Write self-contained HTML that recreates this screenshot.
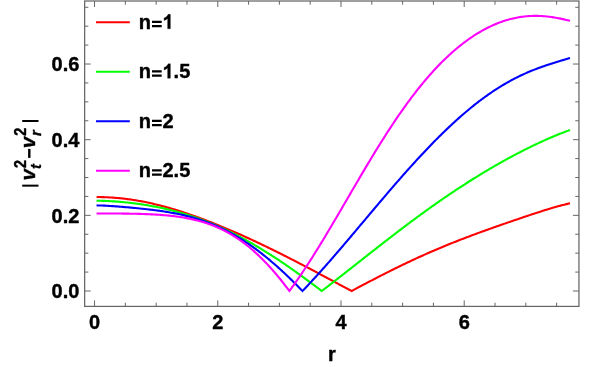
<!DOCTYPE html>
<html><head><meta charset="utf-8"><title>plot</title>
<style>
html,body{margin:0;padding:0;background:#fff;}
body{width:598px;height:367px;overflow:hidden;}
svg{display:block;will-change:transform;opacity:0.999;}
text{font-family:"Liberation Sans",sans-serif;font-weight:bold;fill:#000;stroke:#000;stroke-width:0.4px;stroke-linejoin:round;}
</style></head><body>
<svg width="598" height="367" viewBox="0 0 598 367">
<rect x="0" y="0" width="598" height="367" fill="#ffffff"/>
<path d="M96.58 197.02 L97.77 197.04 L98.96 197.05 L100.14 197.07 L101.33 197.10 L102.52 197.13 L103.70 197.16 L104.89 197.21 L106.08 197.25 L107.26 197.31 L108.45 197.37 L109.63 197.43 L110.82 197.50 L112.01 197.57 L113.19 197.66 L114.38 197.74 L115.57 197.84 L116.75 197.93 L117.94 198.04 L119.13 198.15 L120.31 198.27 L121.50 198.39 L122.69 198.52 L123.87 198.65 L125.06 198.79 L126.25 198.94 L127.43 199.09 L128.62 199.25 L129.80 199.41 L130.99 199.58 L132.18 199.76 L133.36 199.94 L134.55 200.12 L135.74 200.32 L136.92 200.52 L138.11 200.72 L139.30 200.93 L140.48 201.14 L141.67 201.37 L142.86 201.59 L144.04 201.82 L145.23 202.06 L146.42 202.30 L147.60 202.55 L148.79 202.80 L149.98 203.06 L151.16 203.33 L152.35 203.60 L153.53 203.87 L154.72 204.15 L155.91 204.43 L157.09 204.72 L158.28 205.02 L159.47 205.32 L160.65 205.62 L161.84 205.93 L163.03 206.24 L164.21 206.56 L165.40 206.88 L166.59 207.21 L167.77 207.54 L168.96 207.88 L170.15 208.22 L171.33 208.56 L172.52 208.91 L173.71 209.26 L174.89 209.62 L176.08 209.98 L177.26 210.35 L178.45 210.72 L179.64 211.09 L180.82 211.47 L182.01 211.85 L183.20 212.24 L184.38 212.63 L185.57 213.02 L186.76 213.42 L187.94 213.82 L189.13 214.22 L190.32 214.63 L191.50 215.04 L192.69 215.46 L193.88 215.88 L195.06 216.30 L196.25 216.72 L197.44 217.15 L198.62 217.58 L199.81 218.02 L200.99 218.46 L202.18 218.90 L203.37 219.34 L204.55 219.79 L205.74 220.24 L206.93 220.69 L208.11 221.15 L209.30 221.61 L210.49 222.07 L211.67 222.54 L212.86 223.01 L214.05 223.48 L215.23 223.95 L216.42 224.43 L217.61 224.91 L218.79 225.39 L219.98 225.88 L221.17 226.37 L222.35 226.86 L223.54 227.35 L224.72 227.85 L225.91 228.35 L227.10 228.85 L228.28 229.35 L229.47 229.86 L230.66 230.36 L231.84 230.87 L233.03 231.39 L234.22 231.90 L235.40 232.42 L236.59 232.94 L237.78 233.46 L238.96 233.99 L240.15 234.52 L241.34 235.05 L242.52 235.58 L243.71 236.11 L244.89 236.65 L246.08 237.19 L247.27 237.73 L248.45 238.27 L249.64 238.81 L250.83 239.36 L252.01 239.91 L253.20 240.46 L254.39 241.01 L255.57 241.57 L256.76 242.13 L257.95 242.69 L259.13 243.25 L260.32 243.81 L261.51 244.37 L262.69 244.94 L263.88 245.51 L265.07 246.08 L266.25 246.65 L267.44 247.23 L268.62 247.80 L269.81 248.38 L271.00 248.96 L272.18 249.54 L273.37 250.12 L274.56 250.71 L275.74 251.29 L276.93 251.88 L278.12 252.47 L279.30 253.06 L280.49 253.66 L281.68 254.25 L282.86 254.85 L284.05 255.44 L285.24 256.04 L286.42 256.64 L287.61 257.25 L288.80 257.85 L289.98 258.45 L291.17 259.06 L292.35 259.67 L293.54 260.28 L294.73 260.89 L295.91 261.50 L297.10 262.11 L298.29 262.72 L299.47 263.34 L300.66 263.95 L301.85 264.57 L303.03 265.19 L304.22 265.81 L305.41 266.43 L306.59 267.05 L307.78 267.67 L308.97 268.30 L310.15 268.92 L311.34 269.55 L312.53 270.17 L313.71 270.80 L314.90 271.43 L316.08 272.05 L317.27 272.68 L318.46 273.31 L319.64 273.94 L320.83 274.57 L322.02 275.20 L323.20 275.84 L324.39 276.47 L325.58 277.10 L326.76 277.73 L327.95 278.37 L329.14 279.00 L330.32 279.64 L331.51 280.27 L332.70 280.90 L333.88 281.54 L335.07 282.17 L336.25 282.81 L337.44 283.44 L338.63 284.08 L339.81 284.71 L341.00 285.35 L342.19 285.98 L343.37 286.62 L344.56 287.25 L345.75 287.89 L346.93 288.52 L348.12 289.15 L349.31 289.79 L350.49 290.42 L351.58 291.00 L351.68 290.95 L352.87 290.32 L354.05 289.69 L355.24 289.06 L356.43 288.43 L357.61 287.80 L358.80 287.17 L359.98 286.54 L361.17 285.91 L362.36 285.29 L363.54 284.66 L364.73 284.04 L365.92 283.42 L367.10 282.80 L368.29 282.17 L369.48 281.55 L370.66 280.94 L371.85 280.32 L373.04 279.70 L374.22 279.09 L375.41 278.47 L376.60 277.86 L377.78 277.25 L378.97 276.64 L380.16 276.03 L381.34 275.43 L382.53 274.82 L383.71 274.22 L384.90 273.62 L386.09 273.02 L387.27 272.42 L388.46 271.82 L389.65 271.23 L390.83 270.64 L392.02 270.05 L393.21 269.46 L394.39 268.87 L395.58 268.28 L396.77 267.70 L397.95 267.12 L399.14 266.54 L400.33 265.96 L401.51 265.39 L402.70 264.82 L403.89 264.25 L405.07 263.68 L406.26 263.11 L407.44 262.55 L408.63 261.98 L409.82 261.43 L411.00 260.87 L412.19 260.31 L413.38 259.76 L414.56 259.21 L415.75 258.66 L416.94 258.12 L418.12 257.57 L419.31 257.03 L420.50 256.49 L421.68 255.96 L422.87 255.42 L424.06 254.89 L425.24 254.36 L426.43 253.84 L427.62 253.31 L428.80 252.79 L429.99 252.27 L431.17 251.75 L432.36 251.24 L433.55 250.73 L434.73 250.22 L435.92 249.71 L437.11 249.20 L438.29 248.70 L439.48 248.20 L440.67 247.70 L441.85 247.21 L443.04 246.72 L444.23 246.22 L445.41 245.74 L446.60 245.25 L447.79 244.77 L448.97 244.28 L450.16 243.81 L451.34 243.33 L452.53 242.85 L453.72 242.38 L454.90 241.91 L456.09 241.44 L457.28 240.97 L458.46 240.51 L459.65 240.05 L460.84 239.59 L462.02 239.13 L463.21 238.67 L464.40 238.22 L465.58 237.76 L466.77 237.31 L467.96 236.86 L469.14 236.42 L470.33 235.97 L471.52 235.53 L472.70 235.08 L473.89 234.64 L475.07 234.20 L476.26 233.76 L477.45 233.33 L478.63 232.89 L479.82 232.46 L481.01 232.03 L482.19 231.60 L483.38 231.17 L484.57 230.74 L485.75 230.31 L486.94 229.89 L488.13 229.46 L489.31 229.04 L490.50 228.62 L491.69 228.19 L492.87 227.77 L494.06 227.35 L495.25 226.94 L496.43 226.52 L497.62 226.10 L498.80 225.68 L499.99 225.27 L501.18 224.85 L502.36 224.44 L503.55 224.03 L504.74 223.62 L505.92 223.20 L507.11 222.79 L508.30 222.38 L509.48 221.97 L510.67 221.57 L511.86 221.16 L513.04 220.75 L514.23 220.34 L515.42 219.94 L516.60 219.53 L517.79 219.13 L518.98 218.72 L520.16 218.32 L521.35 217.92 L522.53 217.51 L523.72 217.11 L524.91 216.71 L526.09 216.31 L527.28 215.92 L528.47 215.52 L529.65 215.12 L530.84 214.73 L532.03 214.34 L533.21 213.94 L534.40 213.55 L535.59 213.16 L536.77 212.78 L537.96 212.39 L539.15 212.01 L540.33 211.63 L541.52 211.25 L542.71 210.87 L543.89 210.49 L545.08 210.12 L546.26 209.75 L547.45 209.39 L548.64 209.02 L549.82 208.66 L551.01 208.31 L552.20 207.96 L553.38 207.61 L554.57 207.27 L555.76 206.93 L556.94 206.59 L558.13 206.27 L559.32 205.94 L560.50 205.63 L561.69 205.32 L562.88 205.01 L564.06 204.71 L565.25 204.42 L566.43 204.14 L567.62 203.87 L568.81 203.60 L569.99 203.35" fill="none" stroke="#ff0000" stroke-width="2.1" stroke-linejoin="miter" stroke-linecap="butt"/>
<path d="M96.58 200.73 L97.77 200.75 L98.96 200.76 L100.14 200.78 L101.33 200.81 L102.52 200.84 L103.70 200.88 L104.89 200.92 L106.08 200.97 L107.26 201.02 L108.45 201.07 L109.63 201.13 L110.82 201.19 L112.01 201.26 L113.19 201.33 L114.38 201.41 L115.57 201.49 L116.75 201.58 L117.94 201.67 L119.13 201.76 L120.31 201.86 L121.50 201.97 L122.69 202.07 L123.87 202.18 L125.06 202.30 L126.25 202.42 L127.43 202.55 L128.62 202.67 L129.80 202.81 L130.99 202.94 L132.18 203.09 L133.36 203.23 L134.55 203.38 L135.74 203.54 L136.92 203.69 L138.11 203.86 L139.30 204.03 L140.48 204.20 L141.67 204.37 L142.86 204.55 L144.04 204.74 L145.23 204.93 L146.42 205.12 L147.60 205.32 L148.79 205.53 L149.98 205.73 L151.16 205.95 L152.35 206.16 L153.53 206.39 L154.72 206.61 L155.91 206.84 L157.09 207.08 L158.28 207.32 L159.47 207.57 L160.65 207.82 L161.84 208.07 L163.03 208.33 L164.21 208.60 L165.40 208.87 L166.59 209.14 L167.77 209.42 L168.96 209.71 L170.15 210.00 L171.33 210.30 L172.52 210.60 L173.71 210.90 L174.89 211.22 L176.08 211.53 L177.26 211.85 L178.45 212.18 L179.64 212.51 L180.82 212.85 L182.01 213.20 L183.20 213.54 L184.38 213.90 L185.57 214.26 L186.76 214.62 L187.94 215.00 L189.13 215.37 L190.32 215.75 L191.50 216.14 L192.69 216.53 L193.88 216.93 L195.06 217.34 L196.25 217.75 L197.44 218.16 L198.62 218.59 L199.81 219.01 L200.99 219.45 L202.18 219.88 L203.37 220.33 L204.55 220.78 L205.74 221.24 L206.93 221.70 L208.11 222.16 L209.30 222.64 L210.49 223.12 L211.67 223.60 L212.86 224.09 L214.05 224.59 L215.23 225.09 L216.42 225.60 L217.61 226.12 L218.79 226.64 L219.98 227.16 L221.17 227.69 L222.35 228.23 L223.54 228.77 L224.72 229.32 L225.91 229.88 L227.10 230.44 L228.28 231.00 L229.47 231.58 L230.66 232.15 L231.84 232.74 L233.03 233.33 L234.22 233.92 L235.40 234.52 L236.59 235.13 L237.78 235.74 L238.96 236.36 L240.15 236.98 L241.34 237.61 L242.52 238.24 L243.71 238.88 L244.89 239.53 L246.08 240.18 L247.27 240.84 L248.45 241.50 L249.64 242.17 L250.83 242.84 L252.01 243.52 L253.20 244.20 L254.39 244.89 L255.57 245.58 L256.76 246.28 L257.95 246.98 L259.13 247.69 L260.32 248.40 L261.51 249.12 L262.69 249.85 L263.88 250.58 L265.07 251.31 L266.25 252.05 L267.44 252.79 L268.62 253.54 L269.81 254.29 L271.00 255.05 L272.18 255.81 L273.37 256.58 L274.56 257.35 L275.74 258.12 L276.93 258.90 L278.12 259.69 L279.30 260.48 L280.49 261.27 L281.68 262.06 L282.86 262.87 L284.05 263.67 L285.24 264.48 L286.42 265.29 L287.61 266.11 L288.80 266.93 L289.98 267.76 L291.17 268.58 L292.35 269.42 L293.54 270.25 L294.73 271.09 L295.91 271.93 L297.10 272.78 L298.29 273.63 L299.47 274.48 L300.66 275.34 L301.85 276.20 L303.03 277.06 L304.22 277.93 L305.41 278.79 L306.59 279.67 L307.78 280.54 L308.97 281.42 L310.15 282.30 L311.34 283.18 L312.53 284.06 L313.71 284.95 L314.90 285.84 L316.08 286.73 L317.27 287.63 L318.46 288.52 L319.64 289.42 L320.83 290.33 L321.72 291.00 L322.02 290.77 L323.20 289.87 L324.39 288.96 L325.58 288.05 L326.76 287.14 L327.95 286.23 L329.14 285.31 L330.32 284.40 L331.51 283.48 L332.70 282.56 L333.88 281.64 L335.07 280.72 L336.25 279.79 L337.44 278.87 L338.63 277.94 L339.81 277.02 L341.00 276.09 L342.19 275.16 L343.37 274.23 L344.56 273.30 L345.75 272.37 L346.93 271.44 L348.12 270.51 L349.31 269.58 L350.49 268.64 L351.68 267.71 L352.87 266.78 L354.05 265.84 L355.24 264.91 L356.43 263.97 L357.61 263.04 L358.80 262.10 L359.98 261.17 L361.17 260.24 L362.36 259.30 L363.54 258.37 L364.73 257.43 L365.92 256.50 L367.10 255.57 L368.29 254.63 L369.48 253.70 L370.66 252.77 L371.85 251.84 L373.04 250.91 L374.22 249.98 L375.41 249.05 L376.60 248.12 L377.78 247.19 L378.97 246.26 L380.16 245.34 L381.34 244.41 L382.53 243.49 L383.71 242.57 L384.90 241.65 L386.09 240.73 L387.27 239.81 L388.46 238.89 L389.65 237.97 L390.83 237.06 L392.02 236.14 L393.21 235.23 L394.39 234.32 L395.58 233.41 L396.77 232.51 L397.95 231.60 L399.14 230.70 L400.33 229.80 L401.51 228.89 L402.70 228.00 L403.89 227.10 L405.07 226.20 L406.26 225.31 L407.44 224.42 L408.63 223.53 L409.82 222.65 L411.00 221.76 L412.19 220.88 L413.38 220.00 L414.56 219.12 L415.75 218.24 L416.94 217.37 L418.12 216.50 L419.31 215.63 L420.50 214.76 L421.68 213.90 L422.87 213.03 L424.06 212.17 L425.24 211.32 L426.43 210.46 L427.62 209.61 L428.80 208.76 L429.99 207.91 L431.17 207.07 L432.36 206.23 L433.55 205.39 L434.73 204.55 L435.92 203.71 L437.11 202.88 L438.29 202.05 L439.48 201.23 L440.67 200.40 L441.85 199.58 L443.04 198.76 L444.23 197.95 L445.41 197.14 L446.60 196.33 L447.79 195.52 L448.97 194.72 L450.16 193.91 L451.34 193.12 L452.53 192.32 L453.72 191.53 L454.90 190.74 L456.09 189.95 L457.28 189.17 L458.46 188.39 L459.65 187.61 L460.84 186.83 L462.02 186.06 L463.21 185.29 L464.40 184.53 L465.58 183.76 L466.77 183.00 L467.96 182.25 L469.14 181.49 L470.33 180.74 L471.52 180.00 L472.70 179.25 L473.89 178.51 L475.07 177.77 L476.26 177.04 L477.45 176.30 L478.63 175.57 L479.82 174.85 L481.01 174.12 L482.19 173.41 L483.38 172.69 L484.57 171.97 L485.75 171.26 L486.94 170.56 L488.13 169.85 L489.31 169.15 L490.50 168.46 L491.69 167.76 L492.87 167.07 L494.06 166.38 L495.25 165.70 L496.43 165.02 L497.62 164.34 L498.80 163.66 L499.99 162.99 L501.18 162.32 L502.36 161.66 L503.55 161.00 L504.74 160.34 L505.92 159.68 L507.11 159.03 L508.30 158.38 L509.48 157.74 L510.67 157.10 L511.86 156.46 L513.04 155.82 L514.23 155.19 L515.42 154.57 L516.60 153.94 L517.79 153.32 L518.98 152.70 L520.16 152.09 L521.35 151.48 L522.53 150.87 L523.72 150.27 L524.91 149.67 L526.09 149.08 L527.28 148.49 L528.47 147.90 L529.65 147.32 L530.84 146.74 L532.03 146.16 L533.21 145.59 L534.40 145.02 L535.59 144.45 L536.77 143.89 L537.96 143.34 L539.15 142.79 L540.33 142.24 L541.52 141.69 L542.71 141.15 L543.89 140.62 L545.08 140.09 L546.26 139.56 L547.45 139.04 L548.64 138.52 L549.82 138.01 L551.01 137.50 L552.20 136.99 L553.38 136.49 L554.57 136.00 L555.76 135.51 L556.94 135.02 L558.13 134.54 L559.32 134.07 L560.50 133.60 L561.69 133.13 L562.88 132.68 L564.06 132.22 L565.25 131.77 L566.43 131.33 L567.62 130.89 L568.81 130.46 L569.99 130.03" fill="none" stroke="#00ff00" stroke-width="2.1" stroke-linejoin="miter" stroke-linecap="butt"/>
<path d="M96.58 205.41 L97.77 205.43 L98.96 205.45 L100.14 205.49 L101.33 205.52 L102.52 205.57 L103.70 205.62 L104.89 205.67 L106.08 205.73 L107.26 205.79 L108.45 205.86 L109.63 205.93 L110.82 206.00 L112.01 206.08 L113.19 206.16 L114.38 206.25 L115.57 206.33 L116.75 206.42 L117.94 206.51 L119.13 206.60 L120.31 206.70 L121.50 206.79 L122.69 206.89 L123.87 206.99 L125.06 207.09 L126.25 207.20 L127.43 207.30 L128.62 207.41 L129.80 207.51 L130.99 207.62 L132.18 207.73 L133.36 207.84 L134.55 207.96 L135.74 208.07 L136.92 208.19 L138.11 208.31 L139.30 208.43 L140.48 208.55 L141.67 208.67 L142.86 208.80 L144.04 208.92 L145.23 209.05 L146.42 209.18 L147.60 209.32 L148.79 209.45 L149.98 209.59 L151.16 209.74 L152.35 209.88 L153.53 210.03 L154.72 210.18 L155.91 210.33 L157.09 210.49 L158.28 210.65 L159.47 210.81 L160.65 210.98 L161.84 211.15 L163.03 211.33 L164.21 211.51 L165.40 211.69 L166.59 211.88 L167.77 212.08 L168.96 212.28 L170.15 212.48 L171.33 212.69 L172.52 212.91 L173.71 213.13 L174.89 213.35 L176.08 213.58 L177.26 213.82 L178.45 214.07 L179.64 214.32 L180.82 214.57 L182.01 214.84 L183.20 215.11 L184.38 215.38 L185.57 215.67 L186.76 215.96 L187.94 216.26 L189.13 216.56 L190.32 216.88 L191.50 217.20 L192.69 217.53 L193.88 217.87 L195.06 218.22 L196.25 218.57 L197.44 218.93 L198.62 219.31 L199.81 219.69 L200.99 220.08 L202.18 220.47 L203.37 220.88 L204.55 221.30 L205.74 221.73 L206.93 222.16 L208.11 222.61 L209.30 223.06 L210.49 223.53 L211.67 224.00 L212.86 224.48 L214.05 224.98 L215.23 225.48 L216.42 226.00 L217.61 226.52 L218.79 227.06 L219.98 227.60 L221.17 228.16 L222.35 228.72 L223.54 229.30 L224.72 229.89 L225.91 230.48 L227.10 231.09 L228.28 231.71 L229.47 232.34 L230.66 232.98 L231.84 233.63 L233.03 234.30 L234.22 234.97 L235.40 235.65 L236.59 236.35 L237.78 237.05 L238.96 237.77 L240.15 238.50 L241.34 239.24 L242.52 239.99 L243.71 240.75 L244.89 241.52 L246.08 242.30 L247.27 243.09 L248.45 243.90 L249.64 244.71 L250.83 245.54 L252.01 246.37 L253.20 247.22 L254.39 248.08 L255.57 248.95 L256.76 249.82 L257.95 250.71 L259.13 251.61 L260.32 252.52 L261.51 253.44 L262.69 254.38 L263.88 255.32 L265.07 256.27 L266.25 257.23 L267.44 258.20 L268.62 259.18 L269.81 260.17 L271.00 261.18 L272.18 262.19 L273.37 263.21 L274.56 264.24 L275.74 265.28 L276.93 266.33 L278.12 267.39 L279.30 268.45 L280.49 269.53 L281.68 270.62 L282.86 271.71 L284.05 272.82 L285.24 273.93 L286.42 275.05 L287.61 276.18 L288.80 277.32 L289.98 278.47 L291.17 279.62 L292.35 280.79 L293.54 281.96 L294.73 283.14 L295.91 284.32 L297.10 285.52 L298.29 286.72 L299.47 287.93 L300.66 289.14 L301.85 290.37 L302.46 291.00 L303.03 290.40 L304.22 289.16 L305.41 287.92 L306.59 286.67 L307.78 285.41 L308.97 284.15 L310.15 282.88 L311.34 281.60 L312.53 280.32 L313.71 279.03 L314.90 277.74 L316.08 276.44 L317.27 275.13 L318.46 273.82 L319.64 272.51 L320.83 271.19 L322.02 269.86 L323.20 268.53 L324.39 267.20 L325.58 265.86 L326.76 264.52 L327.95 263.17 L329.14 261.82 L330.32 260.46 L331.51 259.10 L332.70 257.74 L333.88 256.37 L335.07 255.00 L336.25 253.63 L337.44 252.25 L338.63 250.88 L339.81 249.49 L341.00 248.11 L342.19 246.72 L343.37 245.33 L344.56 243.94 L345.75 242.55 L346.93 241.15 L348.12 239.75 L349.31 238.35 L350.49 236.95 L351.68 235.55 L352.87 234.14 L354.05 232.74 L355.24 231.33 L356.43 229.92 L357.61 228.52 L358.80 227.11 L359.98 225.70 L361.17 224.29 L362.36 222.88 L363.54 221.47 L364.73 220.06 L365.92 218.65 L367.10 217.24 L368.29 215.83 L369.48 214.42 L370.66 213.01 L371.85 211.60 L373.04 210.20 L374.22 208.79 L375.41 207.39 L376.60 205.98 L377.78 204.58 L378.97 203.18 L380.16 201.78 L381.34 200.38 L382.53 198.99 L383.71 197.59 L384.90 196.20 L386.09 194.81 L387.27 193.43 L388.46 192.04 L389.65 190.66 L390.83 189.28 L392.02 187.90 L393.21 186.53 L394.39 185.16 L395.58 183.79 L396.77 182.43 L397.95 181.07 L399.14 179.71 L400.33 178.35 L401.51 177.00 L402.70 175.66 L403.89 174.31 L405.07 172.97 L406.26 171.64 L407.44 170.31 L408.63 168.98 L409.82 167.66 L411.00 166.34 L412.19 165.03 L413.38 163.72 L414.56 162.42 L415.75 161.12 L416.94 159.82 L418.12 158.53 L419.31 157.25 L420.50 155.97 L421.68 154.70 L422.87 153.43 L424.06 152.17 L425.24 150.91 L426.43 149.66 L427.62 148.42 L428.80 147.18 L429.99 145.95 L431.17 144.72 L432.36 143.50 L433.55 142.29 L434.73 141.08 L435.92 139.88 L437.11 138.68 L438.29 137.49 L439.48 136.31 L440.67 135.14 L441.85 133.97 L443.04 132.81 L444.23 131.66 L445.41 130.51 L446.60 129.37 L447.79 128.24 L448.97 127.12 L450.16 126.00 L451.34 124.89 L452.53 123.79 L453.72 122.70 L454.90 121.61 L456.09 120.53 L457.28 119.47 L458.46 118.40 L459.65 117.35 L460.84 116.31 L462.02 115.27 L463.21 114.24 L464.40 113.22 L465.58 112.21 L466.77 111.21 L467.96 110.21 L469.14 109.23 L470.33 108.25 L471.52 107.28 L472.70 106.32 L473.89 105.38 L475.07 104.43 L476.26 103.50 L477.45 102.58 L478.63 101.67 L479.82 100.76 L481.01 99.87 L482.19 98.99 L483.38 98.11 L484.57 97.24 L485.75 96.39 L486.94 95.54 L488.13 94.70 L489.31 93.88 L490.50 93.06 L491.69 92.25 L492.87 91.45 L494.06 90.67 L495.25 89.89 L496.43 89.12 L497.62 88.36 L498.80 87.61 L499.99 86.87 L501.18 86.14 L502.36 85.42 L503.55 84.72 L504.74 84.02 L505.92 83.33 L507.11 82.65 L508.30 81.98 L509.48 81.32 L510.67 80.67 L511.86 80.03 L513.04 79.40 L514.23 78.78 L515.42 78.17 L516.60 77.56 L517.79 76.97 L518.98 76.39 L520.16 75.82 L521.35 75.25 L522.53 74.70 L523.72 74.15 L524.91 73.62 L526.09 73.09 L527.28 72.57 L528.47 72.06 L529.65 71.56 L530.84 71.07 L532.03 70.59 L533.21 70.11 L534.40 69.64 L535.59 69.18 L536.77 68.73 L537.96 68.28 L539.15 67.84 L540.33 67.41 L541.52 66.99 L542.71 66.57 L543.89 66.15 L545.08 65.75 L546.26 65.35 L547.45 64.95 L548.64 64.56 L549.82 64.17 L551.01 63.79 L552.20 63.42 L553.38 63.04 L554.57 62.67 L555.76 62.30 L556.94 61.94 L558.13 61.57 L559.32 61.21 L560.50 60.85 L561.69 60.49 L562.88 60.13 L564.06 59.77 L565.25 59.40 L566.43 59.04 L567.62 58.67 L568.81 58.30 L569.99 57.93" fill="none" stroke="#0000ff" stroke-width="2.1" stroke-linejoin="miter" stroke-linecap="butt"/>
<path d="M96.58 213.47 L97.77 213.47 L98.96 213.47 L100.14 213.47 L101.33 213.47 L102.52 213.48 L103.70 213.48 L104.89 213.48 L106.08 213.48 L107.26 213.49 L108.45 213.49 L109.63 213.49 L110.82 213.50 L112.01 213.50 L113.19 213.51 L114.38 213.51 L115.57 213.52 L116.75 213.53 L117.94 213.54 L119.13 213.55 L120.31 213.56 L121.50 213.57 L122.69 213.58 L123.87 213.59 L125.06 213.61 L126.25 213.62 L127.43 213.64 L128.62 213.66 L129.80 213.68 L130.99 213.70 L132.18 213.72 L133.36 213.74 L134.55 213.77 L135.74 213.79 L136.92 213.82 L138.11 213.85 L139.30 213.89 L140.48 213.92 L141.67 213.96 L142.86 213.99 L144.04 214.04 L145.23 214.08 L146.42 214.12 L147.60 214.17 L148.79 214.22 L149.98 214.28 L151.16 214.33 L152.35 214.39 L153.53 214.46 L154.72 214.52 L155.91 214.59 L157.09 214.67 L158.28 214.74 L159.47 214.82 L160.65 214.91 L161.84 215.00 L163.03 215.09 L164.21 215.19 L165.40 215.29 L166.59 215.40 L167.77 215.51 L168.96 215.63 L170.15 215.75 L171.33 215.88 L172.52 216.01 L173.71 216.15 L174.89 216.30 L176.08 216.45 L177.26 216.61 L178.45 216.78 L179.64 216.95 L180.82 217.13 L182.01 217.31 L183.20 217.51 L184.38 217.71 L185.57 217.92 L186.76 218.14 L187.94 218.36 L189.13 218.60 L190.32 218.84 L191.50 219.10 L192.69 219.36 L193.88 219.63 L195.06 219.91 L196.25 220.21 L197.44 220.51 L198.62 220.82 L199.81 221.14 L200.99 221.48 L202.18 221.83 L203.37 222.18 L204.55 222.55 L205.74 222.93 L206.93 223.33 L208.11 223.73 L209.30 224.15 L210.49 224.59 L211.67 225.03 L212.86 225.49 L214.05 225.96 L215.23 226.45 L216.42 226.95 L217.61 227.46 L218.79 227.99 L219.98 228.54 L221.17 229.10 L222.35 229.67 L223.54 230.26 L224.72 230.87 L225.91 231.49 L227.10 232.13 L228.28 232.78 L229.47 233.45 L230.66 234.14 L231.84 234.84 L233.03 235.56 L234.22 236.30 L235.40 237.06 L236.59 237.83 L237.78 238.62 L238.96 239.43 L240.15 240.25 L241.34 241.10 L242.52 241.96 L243.71 242.84 L244.89 243.74 L246.08 244.66 L247.27 245.59 L248.45 246.55 L249.64 247.52 L250.83 248.51 L252.01 249.52 L253.20 250.55 L254.39 251.60 L255.57 252.67 L256.76 253.76 L257.95 254.87 L259.13 255.99 L260.32 257.14 L261.51 258.30 L262.69 259.48 L263.88 260.68 L265.07 261.91 L266.25 263.15 L267.44 264.40 L268.62 265.68 L269.81 266.98 L271.00 268.30 L272.18 269.63 L273.37 270.98 L274.56 272.36 L275.74 273.75 L276.93 275.16 L278.12 276.58 L279.30 278.03 L280.49 279.49 L281.68 280.97 L282.86 282.47 L284.05 283.99 L285.24 285.52 L286.42 287.07 L287.61 288.64 L288.80 290.22 L289.37 291.00 L289.98 290.18 L291.17 288.56 L292.35 286.93 L293.54 285.28 L294.73 283.61 L295.91 281.93 L297.10 280.24 L298.29 278.53 L299.47 276.80 L300.66 275.06 L301.85 273.31 L303.03 271.54 L304.22 269.76 L305.41 267.97 L306.59 266.16 L307.78 264.34 L308.97 262.51 L310.15 260.66 L311.34 258.81 L312.53 256.94 L313.71 255.06 L314.90 253.17 L316.08 251.27 L317.27 249.36 L318.46 247.45 L319.64 245.52 L320.83 243.58 L322.02 241.64 L323.20 239.68 L324.39 237.72 L325.58 235.75 L326.76 233.78 L327.95 231.79 L329.14 229.80 L330.32 227.81 L331.51 225.81 L332.70 223.80 L333.88 221.79 L335.07 219.78 L336.25 217.76 L337.44 215.74 L338.63 213.71 L339.81 211.69 L341.00 209.66 L342.19 207.62 L343.37 205.59 L344.56 203.55 L345.75 201.52 L346.93 199.48 L348.12 197.44 L349.31 195.41 L350.49 193.37 L351.68 191.34 L352.87 189.30 L354.05 187.27 L355.24 185.24 L356.43 183.21 L357.61 181.19 L358.80 179.17 L359.98 177.15 L361.17 175.14 L362.36 173.13 L363.54 171.13 L364.73 169.13 L365.92 167.13 L367.10 165.15 L368.29 163.16 L369.48 161.19 L370.66 159.22 L371.85 157.26 L373.04 155.30 L374.22 153.36 L375.41 151.42 L376.60 149.49 L377.78 147.57 L378.97 145.65 L380.16 143.75 L381.34 141.85 L382.53 139.97 L383.71 138.09 L384.90 136.23 L386.09 134.37 L387.27 132.53 L388.46 130.69 L389.65 128.87 L390.83 127.06 L392.02 125.26 L393.21 123.48 L394.39 121.70 L395.58 119.94 L396.77 118.19 L397.95 116.45 L399.14 114.72 L400.33 113.01 L401.51 111.31 L402.70 109.62 L403.89 107.95 L405.07 106.29 L406.26 104.65 L407.44 103.01 L408.63 101.40 L409.82 99.79 L411.00 98.20 L412.19 96.63 L413.38 95.07 L414.56 93.52 L415.75 91.99 L416.94 90.47 L418.12 88.97 L419.31 87.48 L420.50 86.01 L421.68 84.56 L422.87 83.11 L424.06 81.69 L425.24 80.28 L426.43 78.88 L427.62 77.50 L428.80 76.13 L429.99 74.78 L431.17 73.45 L432.36 72.13 L433.55 70.83 L434.73 69.54 L435.92 68.26 L437.11 67.01 L438.29 65.77 L439.48 64.54 L440.67 63.33 L441.85 62.13 L443.04 60.96 L444.23 59.79 L445.41 58.64 L446.60 57.51 L447.79 56.39 L448.97 55.29 L450.16 54.21 L451.34 53.14 L452.53 52.08 L453.72 51.04 L454.90 50.02 L456.09 49.01 L457.28 48.02 L458.46 47.04 L459.65 46.07 L460.84 45.13 L462.02 44.20 L463.21 43.28 L464.40 42.38 L465.58 41.49 L466.77 40.62 L467.96 39.77 L469.14 38.93 L470.33 38.10 L471.52 37.29 L472.70 36.50 L473.89 35.72 L475.07 34.95 L476.26 34.20 L477.45 33.47 L478.63 32.75 L479.82 32.05 L481.01 31.36 L482.19 30.68 L483.38 30.03 L484.57 29.38 L485.75 28.75 L486.94 28.14 L488.13 27.54 L489.31 26.96 L490.50 26.39 L491.69 25.83 L492.87 25.30 L494.06 24.77 L495.25 24.26 L496.43 23.77 L497.62 23.29 L498.80 22.83 L499.99 22.38 L501.18 21.95 L502.36 21.53 L503.55 21.12 L504.74 20.74 L505.92 20.36 L507.11 20.00 L508.30 19.66 L509.48 19.33 L510.67 19.02 L511.86 18.72 L513.04 18.44 L514.23 18.17 L515.42 17.92 L516.60 17.68 L517.79 17.46 L518.98 17.25 L520.16 17.05 L521.35 16.87 L522.53 16.71 L523.72 16.56 L524.91 16.43 L526.09 16.31 L527.28 16.20 L528.47 16.11 L529.65 16.03 L530.84 15.97 L532.03 15.93 L533.21 15.89 L534.40 15.87 L535.59 15.87 L536.77 15.87 L537.96 15.90 L539.15 15.93 L540.33 15.98 L541.52 16.04 L542.71 16.12 L543.89 16.20 L545.08 16.30 L546.26 16.42 L547.45 16.54 L548.64 16.68 L549.82 16.82 L551.01 16.98 L552.20 17.15 L553.38 17.34 L554.57 17.53 L555.76 17.73 L556.94 17.94 L558.13 18.16 L559.32 18.39 L560.50 18.62 L561.69 18.87 L562.88 19.12 L564.06 19.38 L565.25 19.65 L566.43 19.92 L567.62 20.20 L568.81 20.48 L569.99 20.77" fill="none" stroke="#ff00ff" stroke-width="2.1" stroke-linejoin="miter" stroke-linecap="butt"/>
<g stroke="#666666" stroke-width="1" fill="none" shape-rendering="auto">
<rect x="84.65" y="1.00" width="494.30" height="305.40" stroke-width="1.25"/>
<path d="M94.55 306.40V300.40M94.55 1.00V7.00M125.35 306.40V302.70M125.35 1.00V4.70M156.16 306.40V302.70M156.16 1.00V4.70M186.96 306.40V302.70M186.96 1.00V4.70M217.77 306.40V300.40M217.77 1.00V7.00M248.57 306.40V302.70M248.57 1.00V4.70M279.38 306.40V302.70M279.38 1.00V4.70M310.19 306.40V302.70M310.19 1.00V4.70M340.99 306.40V300.40M340.99 1.00V7.00M371.80 306.40V302.70M371.80 1.00V4.70M402.60 306.40V302.70M402.60 1.00V4.70M433.41 306.40V302.70M433.41 1.00V4.70M464.21 306.40V300.40M464.21 1.00V7.00M495.01 306.40V302.70M495.01 1.00V4.70M525.82 306.40V302.70M525.82 1.00V4.70M556.62 306.40V302.70M556.62 1.00V4.70M84.65 291.00H90.65M578.95 291.00H572.95M84.65 272.08H88.35M578.95 272.08H575.25M84.65 253.17H88.35M578.95 253.17H575.25M84.65 234.25H88.35M578.95 234.25H575.25M84.65 215.34H90.65M578.95 215.34H572.95M84.65 196.43H88.35M578.95 196.43H575.25M84.65 177.51H88.35M578.95 177.51H575.25M84.65 158.59H88.35M578.95 158.59H575.25M84.65 139.68H90.65M578.95 139.68H572.95M84.65 120.76H88.35M578.95 120.76H575.25M84.65 101.85H88.35M578.95 101.85H575.25M84.65 82.93H88.35M578.95 82.93H575.25M84.65 64.02H90.65M578.95 64.02H572.95M84.65 45.10H88.35M578.95 45.10H575.25M84.65 26.19H88.35M578.95 26.19H575.25M84.65 7.27H88.35M578.95 7.27H575.25"/>
</g>
<text x="94.55" y="329.0" font-size="20" text-anchor="middle">0</text>
<text x="217.77" y="329.0" font-size="20" text-anchor="middle">2</text>
<text x="340.99" y="329.0" font-size="20" text-anchor="middle">4</text>
<text x="464.21" y="329.0" font-size="20" text-anchor="middle">6</text>
<text x="79.4" y="298.20" font-size="20" text-anchor="end">0.0</text>
<text x="79.4" y="222.54" font-size="20" text-anchor="end">0.2</text>
<text x="79.4" y="146.88" font-size="20" text-anchor="end">0.4</text>
<text x="79.4" y="71.22" font-size="20" text-anchor="end">0.6</text>
<path d="M96.0 22.30H129.8" stroke="#ff0000" stroke-width="2.1" fill="none"/>
<text x="138.8" y="28.75" font-size="20">n</text>
<path d="M152.0 20.80h9.7v2.1h-9.7zM152.0 25.10h9.7v2.1h-9.7z" fill="#000"/>
<path d="M806 0H525V1059Q371 915 162 846V1101Q272 1137 401 1237.5Q530 1338 578 1472H806Z" transform="translate(162.50,28.75) scale(0.009766,-0.009766)" fill="#000" stroke="#000" stroke-width="30.7"/>
<path d="M96.0 71.80H129.8" stroke="#00ff00" stroke-width="2.1" fill="none"/>
<text x="138.8" y="78.25" font-size="20">n</text>
<path d="M152.0 70.30h9.7v2.1h-9.7zM152.0 74.60h9.7v2.1h-9.7z" fill="#000"/>
<path d="M806 0H525V1059Q371 915 162 846V1101Q272 1137 401 1237.5Q530 1338 578 1472H806Z" transform="translate(162.50,78.25) scale(0.009766,-0.009766)" fill="#000" stroke="#000" stroke-width="30.7"/>
<text x="173.62" y="78.25" font-size="20">.5</text>
<path d="M96.0 121.30H129.8" stroke="#0000ff" stroke-width="2.1" fill="none"/>
<text x="138.8" y="127.75" font-size="20">n</text>
<path d="M152.0 119.80h9.7v2.1h-9.7zM152.0 124.10h9.7v2.1h-9.7z" fill="#000"/>
<text x="162.50" y="127.75" font-size="20">2</text>
<path d="M96.0 170.80H129.8" stroke="#ff00ff" stroke-width="2.1" fill="none"/>
<text x="138.8" y="177.25" font-size="20">n</text>
<path d="M152.0 169.30h9.7v2.1h-9.7zM152.0 173.60h9.7v2.1h-9.7z" fill="#000"/>
<text x="162.50" y="177.25" font-size="20">2.5</text>
<text x="332.0" y="361" font-size="20" text-anchor="middle">r</text>
<g transform="translate(34.4,153.4) rotate(-90)">
<rect x="-33.25" y="-12.2" width="2.0" height="16.3" fill="#000"/>
<rect x="31.4" y="-12.2" width="2.0" height="16.3" fill="#000"/>
<rect x="-4.5" y="-6.3" width="9.0" height="2.4" fill="#000"/>
<text x="-21.3" y="0.4" font-size="20.5" font-style="italic" text-anchor="middle">v</text>
<text x="10.9" y="0.4" font-size="20.5" font-style="italic" text-anchor="middle">v</text>
<text transform="translate(-10.5,-8.8) scale(0.9,1)" font-size="16" text-anchor="middle">2</text>
<text transform="translate(21.6,-8.8) scale(0.9,1)" font-size="16" text-anchor="middle">2</text>
<text x="-13.25" y="6.6" font-size="14.5" font-style="italic" text-anchor="middle">t</text>
<text x="20.3" y="6.4" font-size="14.5" font-style="italic" text-anchor="middle">r</text>
</g>
</svg>
</body></html>
